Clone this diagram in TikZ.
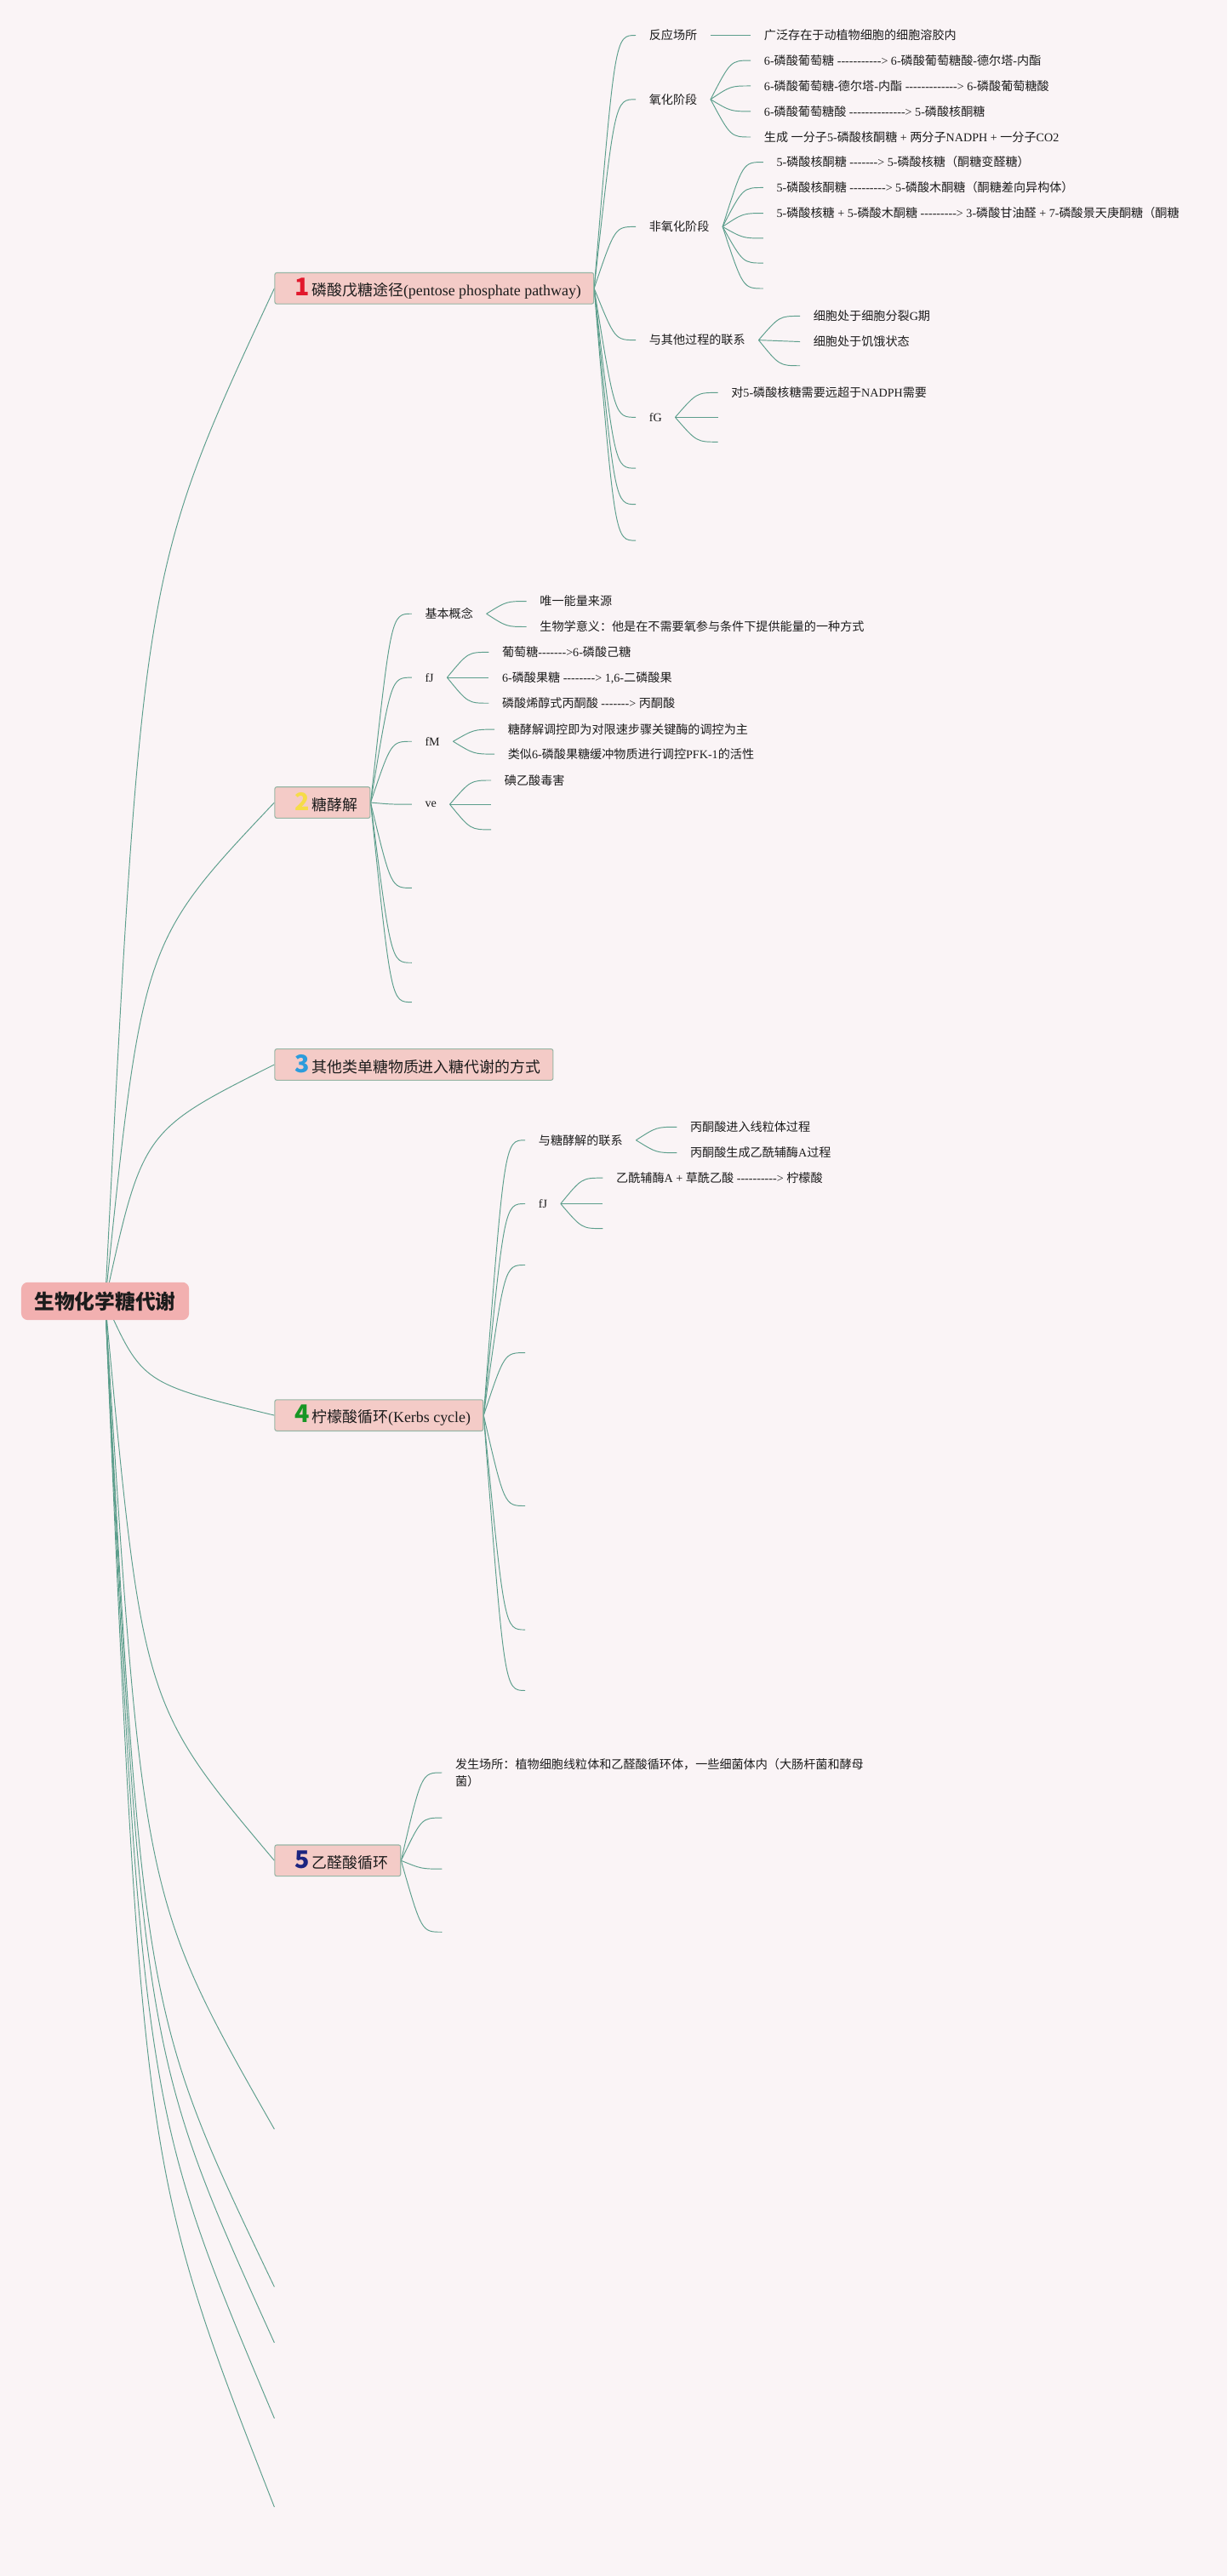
\documentclass[tikz,border=0pt]{standalone}
\usepackage{fontspec}
\setmainfont{Liberation Serif}[Ligatures=TeXOff]
\newfontfamily\cjk{Noto Sans CJK SC}
\usepackage{xcolor}
\usetikzlibrary{calc}
\usetikzlibrary{backgrounds}

% Han characters and full-width punctuation are set in the CJK family
\XeTeXinterchartokenstate=1
\newXeTeXintercharclass\hanclass
\newcount\hancode
\hancode="4E00
\loop
  \XeTeXcharclass\hancode=\hanclass
  \advance\hancode by 1
\ifnum\hancode<"A000 \repeat
\XeTeXcharclass"FF08=\hanclass
\XeTeXcharclass"FF09=\hanclass
\XeTeXcharclass"FF0C=\hanclass
\XeTeXcharclass"FF1A=\hanclass
\XeTeXinterchartoks 0 \hanclass = {\begingroup\cjk}
\XeTeXinterchartoks 4095 \hanclass = {\begingroup\cjk}
\XeTeXinterchartoks \hanclass 0 = {\endgroup}
\XeTeXinterchartoks \hanclass 4095 = {\endgroup}

\definecolor{paper}{RGB}{250,244,246}
\definecolor{branchline}{RGB}{92,158,140}
\definecolor{rootfill}{RGB}{242,176,176}
\definecolor{boxfill}{RGB}{244,203,199}
\definecolor{boxline}{RGB}{152,182,166}
\definecolor{ink}{RGB}{28,28,28}
\definecolor{numred}{RGB}{226,24,44}
\definecolor{numyellow}{RGB}{246,220,72}
\definecolor{numblue}{RGB}{44,156,220}
\definecolor{numgreen}{RGB}{24,150,36}
\definecolor{numnavy}{RGB}{28,36,128}

\newcommand{\topicnum}[2]{\hspace*{2.2mm}{\color{#1}\fontsize{21}{21}\cjk\bfseries #2}\hspace{0.8mm}}

\tikzset{
  rootbox/.style={fill=rootfill, rounded corners=2mm, inner xsep=4mm, minimum height=11.5mm,
    text=ink, font=\fontsize{17.5}{20}\selectfont\bfseries},
  topicbox/.style={anchor=west, fill=boxfill, draw=boxline, line width=0.8pt, rounded corners=0.6mm,
    inner xsep=3.8mm, minimum height=9.5mm, text=ink, font=\fontsize{13.2}{15}\selectfont},
  subtopic/.style={anchor=west, inner xsep=4mm, inner ysep=0.5mm, text=ink,
    font=\fontsize{10.4}{14.7}\selectfont},
  link/.style={draw=branchline, line width=0.7pt},
  trunk/.style={to path={let \p1=(\tikztostart), \p2=(\tikztotarget) in
    .. controls ({\x1+0.22*(\x2-(\x1))},{\y1+0.72*(\y2-(\y1))}) .. (\tikztotarget)}},
  fan/.style={to path={let \p1=(\tikztostart), \p2=(\tikztotarget) in
    .. controls ({(\x1+\x2)/2},\y2) .. (\tikztotarget)}},
}

\begin{document}
\begin{tikzpicture}[x=0.5mm,y=-0.5mm]
\useasboundingbox (0,0) rectangle (747,1568);

% centre and the five topics
\node[rootbox] (root) at (64,792) {生物化学糖代谢};
\node[topicbox] (pps) at (167,175.5) {\topicnum{numred}{1}磷酸戊糖途径(pentose phosphate pathway)};
\node[topicbox] (gly) at (167,488.5) {\topicnum{numyellow}{2}糖酵解};
\node[topicbox] (mono) at (167,648) {\topicnum{numblue}{3}其他类单糖物质进入糖代谢的方式};
\node[topicbox] (tca) at (167,861.5) {\topicnum{numgreen}{4}柠檬酸循环(Kerbs cycle)};
\node[topicbox] (glx) at (167,1132.5) {\topicnum{numnavy}{5}乙醛酸循环};
\foreach \k/\yv in {1/1296,2/1392,3/1426,4/1472,5/1526}
  \coordinate (end\k) at (167,\yv);

% 1 pentose phosphate pathway
\node[subtopic] (pps1) at (387,21.5) {反应场所};
\node[subtopic] (pps2) at (387,60.5) {氧化阶段};
\node[subtopic] (pps3) at (387,138) {非氧化阶段};
\node[subtopic] (pps4) at (387,207) {与其他过程的联系};
\node[subtopic] (pps5) at (387,254) {fG};
\foreach \k/\yv in {6/285,7/307,8/329}
  \coordinate (pps\k) at (387,\yv);
\node[subtopic] (pps1a) at (457,21.5) {广泛存在于动植物细胞的细胞溶胶内};
\node[subtopic] (pps2a) at (457,36.8) {6-磷酸葡萄糖 -----------> 6-磷酸葡萄糖酸-德尔塔-内酯};
\node[subtopic] (pps2b) at (457,52.3) {6-磷酸葡萄糖-德尔塔-内酯 -------------> 6-磷酸葡萄糖酸};
\node[subtopic] (pps2c) at (457,67.8) {6-磷酸葡萄糖酸 --------------> 5-磷酸核酮糖};
\node[subtopic] (pps2d) at (457,83.4) {生成 一分子5-磷酸核酮糖 + 两分子NADPH + 一分子CO2};
\node[subtopic] (pps3a) at (464.6,98.7) {5-磷酸核酮糖 -------> 5-磷酸核糖（酮糖变醛糖）};
\node[subtopic] (pps3b) at (464.6,114.2) {5-磷酸核酮糖 ---------> 5-磷酸木酮糖（酮糖差向异构体）};
\node[subtopic] (pps3c) at (464.6,129.8) {5-磷酸核糖 + 5-磷酸木酮糖 ---------> 3-磷酸甘油醛 + 7-磷酸景天庚酮糖（酮糖};
\foreach \s/\yv in {d/145,e/160.1,f/175.6}
  \coordinate (pps3\s) at (464.6,\yv);
\node[subtopic] (pps4a) at (487,192.4) {细胞处于细胞分裂G期};
\node[subtopic] (pps4b) at (487,208) {细胞处于饥饿状态};
\coordinate (pps4c) at (487,222.6);
\node[subtopic] (pps5a) at (437,239) {对5-磷酸核糖需要远超于NADPH需要};
\coordinate (pps5b) at (437,254);
\coordinate (pps5c) at (437,269);

% 2 glycolysis
\node[subtopic] (gly1) at (250.6,373.6) {基本概念};
\node[subtopic] (gly2) at (250.6,412.4) {fJ};
\node[subtopic] (gly3) at (250.6,451.3) {fM};
\node[subtopic] (gly4) at (250.6,489.6) {ve};
\foreach \k/\yv in {5/540.5,6/586,7/610}
  \coordinate (gly\k) at (250.6,\yv);
\node[subtopic] (gly1a) at (320.5,366) {唯一能量来源};
\node[subtopic] (gly1b) at (320.5,381.5) {生物学意义：他是在不需要氧参与条件下提供能量的一种方式};
\node[subtopic] (gly2a) at (297.5,397) {葡萄糖------->6-磷酸己糖};
\node[subtopic] (gly2b) at (297.5,412.4) {6-磷酸果糖 --------> 1,6-二磷酸果};
\node[subtopic] (gly2c) at (297.5,428) {磷酸烯醇式丙酮酸 -------> 丙酮酸};
\node[subtopic] (gly3a) at (301,444) {糖酵解调控即为对限速步骤关键酶的调控为主};
\node[subtopic] (gly3b) at (301,459) {类似6-磷酸果糖缓冲物质进行调控PFK-1的活性};
\node[subtopic] (gly4a) at (299,475) {碘乙酸毒害};
\coordinate (gly4b) at (299,489.6);
\coordinate (gly4c) at (299,505);

% 4 citric acid cycle
\node[subtopic] (tca1) at (319.7,694) {与糖酵解的联系};
\node[subtopic] (tca2) at (319.7,732.7) {fJ};
\foreach \k/\yv in {3/770,4/823.4,5/916.6,6/992,7/1029}
  \coordinate (tca\k) at (319.7,\yv);
\node[subtopic] (tca1a) at (412,686) {丙酮酸进入线粒体过程};
\node[subtopic] (tca1b) at (412,701.7) {丙酮酸生成乙酰辅酶A过程};
\node[subtopic] (tca2a) at (367,717) {乙酰辅酶A + 草酰乙酸 ----------> 柠檬酸};
\coordinate (tca2b) at (367,732.7);
\coordinate (tca2c) at (367,747.8);

% 5 glyoxylate cycle
\node[subtopic, align=left] (glx1) at (269,1079) {发生场所：植物细胞线粒体和乙醛酸循环体，一些细菌体内（大肠杆菌和酵母\\菌）};
\foreach \k/\yv in {2/1106.5,3/1137.6,4/1176}
  \coordinate (glx\k) at (269,\yv);

% connectors behind the boxes
\begin{scope}[on background layer]
\fill[paper] (0,0) rectangle (747,1568);
\foreach \t in {pps,gly,mono,tca,glx}
  \draw[link] (root.center) to[trunk] (\t.west);
\foreach \k in {1,...,5}
  \draw[link] (root.center) to[trunk] (end\k);
\foreach \k in {1,...,5}
  \draw[link] (pps.east) to[fan] (pps\k.west);
\foreach \k in {6,7,8}
  \draw[link] (pps.east) to[fan] (pps\k);
\draw[link] (pps1.east) to[fan] (pps1a.west);
\foreach \s in {a,b,c,d}
  \draw[link] (pps2.east) to[fan] (pps2\s.west);
\foreach \s in {a,b,c}
  \draw[link] (pps3.east) to[fan] (pps3\s.west);
\foreach \s in {d,e,f}
  \draw[link] (pps3.east) to[fan] (pps3\s);
\draw[link] (pps4.east) to[fan] (pps4a.west);
\draw[link] (pps4.east) to[fan] (pps4b.west);
\draw[link] (pps4.east) to[fan] (pps4c);
\draw[link] (pps5.east) to[fan] (pps5a.west);
\draw[link] (pps5.east) to[fan] (pps5b);
\draw[link] (pps5.east) to[fan] (pps5c);
\foreach \k in {1,...,4}
  \draw[link] (gly.east) to[fan] (gly\k.west);
\foreach \k in {5,6,7}
  \draw[link] (gly.east) to[fan] (gly\k);
\foreach \s in {a,b}
  \draw[link] (gly1.east) to[fan] (gly1\s.west);
\foreach \s in {a,b,c}
  \draw[link] (gly2.east) to[fan] (gly2\s.west);
\foreach \s in {a,b}
  \draw[link] (gly3.east) to[fan] (gly3\s.west);
\draw[link] (gly4.east) to[fan] (gly4a.west);
\draw[link] (gly4.east) to[fan] (gly4b);
\draw[link] (gly4.east) to[fan] (gly4c);
\foreach \k in {1,2}
  \draw[link] (tca.east) to[fan] (tca\k.west);
\foreach \k in {3,...,7}
  \draw[link] (tca.east) to[fan] (tca\k);
\foreach \s in {a,b}
  \draw[link] (tca1.east) to[fan] (tca1\s.west);
\draw[link] (tca2.east) to[fan] (tca2a.west);
\draw[link] (tca2.east) to[fan] (tca2b);
\draw[link] (tca2.east) to[fan] (tca2c);
\draw[link] (glx.east) to[fan] (glx1.west);
\foreach \k in {2,3,4}
  \draw[link] (glx.east) to[fan] (glx\k);
\end{scope}
\end{tikzpicture}
\end{document}
